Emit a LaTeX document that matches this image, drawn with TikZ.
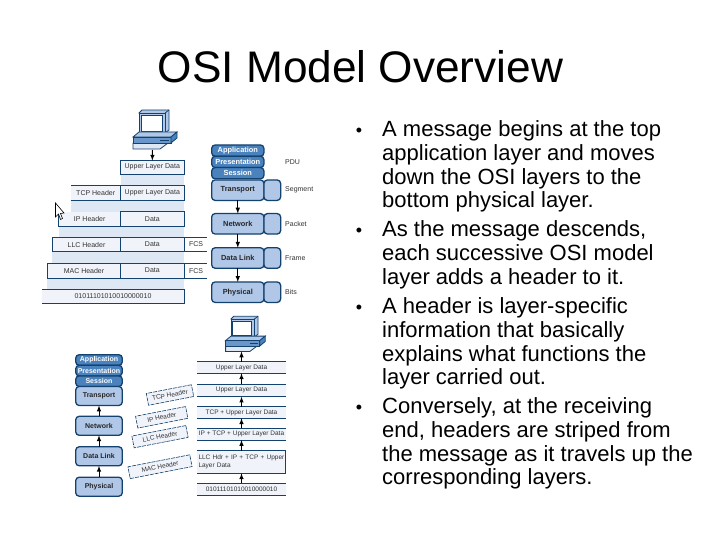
\documentclass[tikz,border=0pt]{standalone}
\usepackage{fontspec}
\setmainfont{Liberation Sans}
\usetikzlibrary{positioning}
\definecolor{lineblue}{RGB}{20,66,110}
\definecolor{layerblue}{RGB}{176,199,232}
\definecolor{topblue}{RGB}{74,130,190}
\definecolor{paleblue}{RGB}{222,232,245}
\definecolor{rowblue}{RGB}{240,244,250}
\definecolor{greytext}{RGB}{50,50,50}
\tikzset{
  layer/.style={draw=lineblue, fill=layerblue, line width=1.3pt, rounded corners=3.5pt, font=\fontsize{7.4}{8}\selectfont\bfseries, text=black!85, inner sep=0pt, outer sep=0pt},
  toplayer/.style={layer, fill=topblue, text=white},
  rlayer/.style={layer, font=\fontsize{7}{8}\selectfont\bfseries},
  rtoplayer/.style={toplayer, font=\fontsize{7}{8}\selectfont\bfseries},
  cell/.style={fill=rowblue, font=\fontsize{7}{8}\selectfont, text=greytext, inner sep=0pt, outer sep=0pt},
  row/.style={cell, draw=lineblue, line width=.7pt},
  rule/.style={lineblue, line width=.7pt},
  pdu/.style={font=\fontsize{7}{8}\selectfont, text=greytext, anchor=west, inner sep=0pt},
  hdr/.style={draw=lineblue, dash pattern=on 4pt off 1pt, fill=rowblue, line width=.6pt, rotate=11, font=\fontsize{6.5}{7}\selectfont, text=greytext, inner sep=0pt, minimum height=12pt},
  down/.style={-latex, line width=1pt, black},
  bullettext/.style={font=\fontsize{22}{23.7}\selectfont, align=left, anchor=north west, inner sep=0pt},
  bulletdot/.style={font=\fontsize{18}{18}\selectfont, inner sep=0pt},
}
\newcommand{\computer}[3]{%
  \begin{scope}[shift={(#1,#2)}, scale=#3]
    \filldraw[layerblue, draw=lineblue, line width=.8pt] (-7,-23) -- (20,-23) -- (20,-3) -- (16,0) -- (-10,-20) -- cycle;
    \filldraw[layerblue, draw=lineblue, line width=.8pt] (-10,-20) -- (16,-20) -- (16,0) -- (-10,0) -- cycle;
    \draw[lineblue, line width=.8pt] (16,-20) -- (20,-23);
    \filldraw[white, draw=lineblue, line width=.8pt] (-8,-17.5) rectangle (13,-2);
    \filldraw[paleblue, draw=lineblue, line width=.8pt] (-16,10) -- (19,10) -- (11,16) -- (-16,16) -- cycle;
    \filldraw[layerblue, draw=lineblue, line width=.8pt] (-10,-1) -- (28,-1) -- (22,4) -- (-16,4) -- cycle;
    \filldraw[topblue!70!layerblue, draw=lineblue, line width=.8pt] (-16,4) -- (22,4) -- (22,10) -- (-16,10) -- cycle;
    \filldraw[topblue, draw=lineblue, line width=.8pt] (22,4) -- (28,-1) -- (28,5) -- (22,10) -- cycle;
    \draw[lineblue, line width=.8pt] (11,7) -- (20,7);
  \end{scope}}
\begin{document}
\begin{tikzpicture}[x=1pt,y=-1pt]
  \useasboundingbox (0,0) rectangle (720,540);
  \node[font=\fontsize{44.2}{50}\selectfont, anchor=base] (title) at (360.5,83) {OSI Model Overview};

  % bullets
  \node[bullettext] (b1) at (382,120.5) {A message begins at the top\\application layer and moves\\down the OSI layers to the\\bottom physical layer.};
  \node[bullettext] (b2) at (382,220.5) {As the message descends,\\each successive OSI model\\layer adds a header to it.};
  \node[bullettext] (b3) at (382,297.5) {A header is layer-specific\\information that basically\\explains what functions the\\layer carried out.};
  \node[bullettext] (b4) at (382,397.5) {Conversely, at the receiving\\end, headers are striped from\\the message as it travels up the\\corresponding layers.};
  \foreach \b in {b1,b2,b3,b4}
    \node[bulletdot] (dot\b) at ([xshift=-23pt,yshift=-12pt]\b.north west) {•};

  % encapsulation stack
  \fill[paleblue] (120.7,174) rectangle (184,185.7);
  \fill[paleblue] (70.7,200.7) rectangle (184,211.7);
  \fill[paleblue] (58.7,226.3) rectangle (184,237.3);
  \fill[paleblue] (52.3,251.7) rectangle (184,263.3);
  \fill[paleblue] (47.3,278) rectangle (184,289.3);

  \node[row, minimum width=63.3pt, minimum height=13.3pt] (upper) at (152.3,167.3) {Upper Layer Data};
  \node[cell, minimum width=50pt, minimum height=15pt] (tcp) at (95.7,193.2) {TCP Header};
  \node[row, minimum width=63.3pt, minimum height=15pt, right=0pt of tcp] (tcpdata) {Upper Layer Data};
  \node[cell, minimum width=62pt, minimum height=14.6pt] (ip) at (89.7,219) {IP Header};
  \node[row, minimum width=63.3pt, minimum height=14.6pt, right=0pt of ip] (ipdata) {Data};
  \node[row, minimum width=68.4pt, minimum height=14.4pt] (llc) at (86.5,244.5) {LLC Header};
  \node[row, minimum width=63.3pt, minimum height=14.4pt, right=0pt of llc] (llcdata) {Data};
  \node[row, minimum width=73.4pt, minimum height=14.7pt] (mac) at (84,270.6) {MAC Header};
  \node[row, minimum width=63.3pt, minimum height=14.7pt, right=0pt of mac] (macdata) {Data};
  \node[cell, minimum width=142pt, minimum height=14.4pt] (bitsrow) at (113,296.5) {01011101010010000010};
  \node[font=\fontsize{7}{8}\selectfont, text=greytext, inner sep=0pt] (fcsa) at (196,244.5) {FCS};
  \node[font=\fontsize{7}{8}\selectfont, text=greytext, inner sep=0pt] (fcsb) at (196,270.6) {FCS};
  \draw[rule] (tcp.north west) -- (tcp.north east) (tcp.south west) -- (tcp.south east);
  \draw[rule] (ip.north west) -- (ip.south west) -- (ip.south east);
  \draw[rule] (bitsrow.north west) -- (bitsrow.north east) -- (bitsrow.south east) -- (bitsrow.south west);
  \draw[rule] (llcdata.north east) -- ++(23,0) (llcdata.south east) -- ++(23,0);
  \draw[rule] (macdata.north east) -- ++(23,0) (macdata.south east) -- ++(23,0);

  % mouse pointer
  \filldraw[fill=white, draw=black, line width=.6pt] (55.5,203) -- (55.5,217) -- (58.5,214) -- (60.5,219.5) -- (62.5,218.5) -- (60.5,213.5) -- (64,213) -- cycle;

  \computer{149}{133}{1}
  \coordinate (pcdown) at (152.5,150);
  \draw[down] (pcdown) -- (upper.north);

  % sending layers
  \node[toplayer, minimum width=52.3pt, minimum height=11.3pt] (app) at (237.8,150.6) {Application};
  \node[toplayer, minimum width=52.3pt, minimum height=11.3pt, below=0pt of app] (pres) {Presentation};
  \node[toplayer, minimum width=52.3pt, minimum height=11.3pt, below=0pt of pres] (sess) {Session};
  \node[layer, minimum width=52.3pt, minimum height=20.5pt] (trans) at (237.8,190.2) {Transport};
  \node[layer, minimum width=52.3pt, minimum height=20.5pt] (net) at (237.8,223.8) {Network};
  \node[layer, minimum width=52.3pt, minimum height=20.5pt] (link) at (237.8,258) {Data Link};
  \node[layer, minimum width=52.3pt, minimum height=20.5pt] (phys) at (237.8,292.2) {Physical};
  \foreach \n in {trans,net,link,phys}
    \node[layer, minimum width=16.7pt, minimum height=20.5pt, right=0pt of \n] (side\n) {};
  \draw[down] (trans) -- (net);
  \draw[down] (net) -- (link);
  \draw[down] (link) -- (phys);

  \node[pdu] (pdulabel) at (285,161.7) {PDU};
  \node[pdu] (seg) at (285,190) {Segment};
  \node[pdu] (pkt) at (285,224) {Packet};
  \node[pdu] (frm) at (285,258) {Frame};
  \node[pdu] (bts) at (285,292) {Bits};

  % receiving layers
  \node[rtoplayer, minimum width=46.6pt, minimum height=10.6pt] (rapp) at (99,360) {Application};
  \node[rtoplayer, minimum width=46.6pt, minimum height=10.6pt, below=0pt of rapp] (rpres) {Presentation};
  \node[rtoplayer, minimum width=46.6pt, minimum height=10.6pt, below=0pt of rpres] (rsess) {Session};
  \node[rlayer, minimum width=46.6pt, minimum height=19pt] (rtrans) at (99,396) {Transport};
  \node[rlayer, minimum width=46.6pt, minimum height=19pt] (rnet) at (99,425.8) {Network};
  \node[rlayer, minimum width=46.6pt, minimum height=19pt] (rlink) at (99,456.3) {Data Link};
  \node[rlayer, minimum width=46.6pt, minimum height=19pt] (rphys) at (99,486.7) {Physical};
  \draw[down] (rnet) -- (rtrans);
  \draw[down] (rlink) -- (rnet);
  \draw[down] (rphys) -- (rlink);

  \node[hdr, minimum width=46pt] (rtcp) at (170,395) {TCP Header};
  \node[hdr, minimum width=51pt] (rip) at (161.7,417.3) {IP Header};
  \node[hdr, minimum width=55pt] (rllc) at (160,436.7) {LLC Header};
  \node[hdr, minimum width=63pt] (rmac) at (160,466.7) {MAC Header};

  \tikzset{rrow/.style={fill=rowblue, font=\fontsize{6.5}{7.5}\selectfont, text=greytext, inner sep=0pt, outer sep=0pt, minimum width=88.4pt, align=left}}
  \node[rrow, minimum height=11.6pt] (r1) at (241.5,367.5) {Upper Layer Data};
  \node[rrow, minimum height=12.7pt] (r2) at (241.5,390.3) {Upper Layer Data};
  \node[rrow, minimum height=11.6pt] (r3) at (241.5,412.5) {TCP + Upper Layer Data};
  \node[rrow, minimum height=11.6pt] (r4) at (241.5,434.2) {IP + TCP + Upper Layer Data};
  \node[rrow, minimum height=22.6pt, text width=86pt] (r5) at (241.5,462) {LLC Hdr + IP + TCP + Upper Layer Data};
  \node[rrow, minimum height=11.7pt] (r6) at (241.5,489.2) {01011101010010000010};
  \foreach \r in {r1,r2,r3,r4,r5,r6}
    \draw[rule] (\r.north west) -- (\r.north east) (\r.south west) -- (\r.south east);
  \draw[rule] (r5.north east) -- (r5.south east);
  \computer{240}{337}{.9}
  \coordinate (pcup) at (241.5,351.5);
  \draw[down] (r1) -- (pcup);
  \draw[down] (r2) -- (r1);
  \draw[down] (r3) -- (r2);
  \draw[down] (r4) -- (r3);
  \draw[down] (r5) -- (r4);
  \draw[down] (r6) -- (r5);
\end{tikzpicture}
\end{document}
